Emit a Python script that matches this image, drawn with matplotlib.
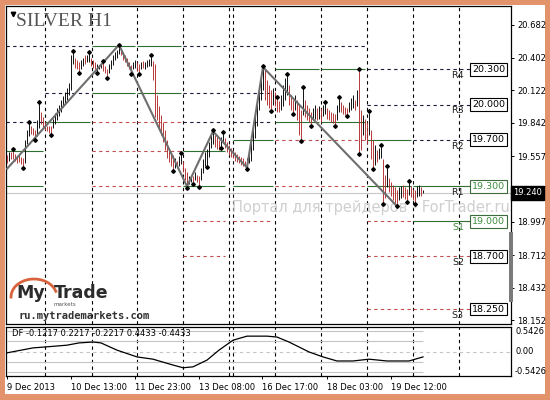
import matplotlib.pyplot as plt
from matplotlib.patches import Rectangle, Arc

# ---- data (hourly bars) ----
highs = [19.57, 19.59, 19.59, 19.61, 19.58, 19.56, 19.57, 19.55, 19.54, 19.70,
         19.78, 19.84, 19.82, 19.80, 19.78, 19.87, 20.01, 19.94, 19.89, 19.85,
         19.82, 19.82, 19.82, 19.88, 19.93, 19.97, 20.00, 20.04, 20.07, 20.11,
         20.14, 20.18, 20.42, 20.45, 20.40, 20.38, 20.36, 20.38, 20.40, 20.42,
         20.42, 20.44, 20.40, 20.38, 20.36, 20.35, 20.34, 20.35, 20.36, 20.33,
         20.30, 20.35, 20.38, 20.42, 20.45, 20.47, 20.50, 20.48, 20.45, 20.42,
         20.40, 20.36, 20.34, 20.36, 20.38, 20.36, 20.35, 20.36, 20.37, 20.36,
         20.38, 20.39, 20.41, 20.37, 20.35, 20.08, 19.99, 19.91, 19.85, 19.78,
         19.70, 19.63, 19.59, 19.57, 19.54, 19.52, 19.56, 19.57, 19.52, 19.46,
         19.42, 19.39, 19.40, 19.39, 19.42, 19.40, 19.39, 19.46, 19.53, 19.59,
         19.62, 19.68, 19.74, 19.77, 19.74, 19.72, 19.70, 19.72, 19.75, 19.71,
         19.68, 19.65, 19.63, 19.61, 19.59, 19.58, 19.56, 19.55, 19.54, 19.52,
         19.54, 19.61, 19.70, 19.80, 19.94, 20.06, 20.17, 20.28, 20.32, 20.30,
         20.21, 20.17, 20.12, 20.14, 20.11, 20.05, 20.03, 20.08, 20.17, 20.23,
         20.25, 20.17, 20.08, 20.04, 20.08, 20.04, 20.00, 19.95, 20.14, 20.04,
         20.00, 19.97, 19.94, 19.97, 20.00, 19.97, 19.99, 19.97, 20.00, 20.01,
         19.97, 19.95, 19.94, 19.93, 19.92, 20.00, 20.05, 20.02, 20.00, 19.98,
         19.97, 20.02, 20.06, 20.08, 20.04, 20.12, 20.29, 19.95, 19.91, 19.88,
         19.85, 19.93, 19.78, 19.70, 19.65, 19.61, 19.63, 19.64, 19.53, 19.40,
         19.46, 19.37, 19.34, 19.31, 19.29, 19.27, 19.29, 19.30, 19.31, 19.29,
         19.28, 19.33, 19.30, 19.28, 19.27, 19.30, 19.31, 19.29, 19.27]
lows = [19.50, 19.52, 19.53, 19.53, 19.52, 19.50, 19.51, 19.49, 19.47, 19.50,
        19.66, 19.73, 19.75, 19.74, 19.71, 19.73, 19.80, 19.83, 19.81, 19.78,
        19.77, 19.76, 19.75, 19.80, 19.83, 19.87, 19.90, 19.94, 19.98, 20.01,
        20.04, 20.08, 20.12, 20.35, 20.31, 20.30, 20.28, 20.30, 20.33, 20.35,
        20.36, 20.36, 20.33, 20.31, 20.30, 20.28, 20.30, 20.31, 20.29, 20.27,
        20.24, 20.27, 20.30, 20.34, 20.38, 20.40, 20.43, 20.42, 20.38, 20.36,
        20.33, 20.30, 20.27, 20.30, 20.31, 20.29, 20.27, 20.30, 20.31, 20.30,
        20.32, 20.33, 20.33, 20.21, 19.89, 19.87, 19.80, 19.74, 19.68, 19.61,
        19.54, 19.51, 19.47, 19.44, 19.46, 19.46, 19.47, 19.49, 19.42, 19.35,
        19.30, 19.32, 19.34, 19.33, 19.35, 19.34, 19.31, 19.35, 19.41, 19.47,
        19.48, 19.55, 19.63, 19.66, 19.64, 19.62, 19.61, 19.64, 19.67, 19.63,
        19.59, 19.57, 19.55, 19.54, 19.52, 19.51, 19.50, 19.48, 19.47, 19.47,
        19.46, 19.50, 19.52, 19.61, 19.71, 19.82, 19.95, 20.04, 20.12, 20.04,
        20.00, 19.97, 19.96, 20.00, 19.99, 19.94, 19.94, 19.95, 19.99, 20.04,
        20.08, 20.00, 19.95, 19.93, 19.95, 19.87, 19.74, 19.70, 19.91, 19.89,
        19.87, 19.85, 19.83, 19.87, 19.88, 19.87, 19.88, 19.85, 19.90, 19.92,
        19.88, 19.87, 19.85, 19.84, 19.83, 19.87, 19.94, 19.94, 19.92, 19.91,
        19.91, 19.94, 19.95, 19.97, 19.95, 19.99, 19.59, 19.61, 19.74, 19.70,
        19.66, 19.74, 19.53, 19.46, 19.48, 19.51, 19.53, 19.54, 19.16, 19.20,
        19.29, 19.25, 19.22, 19.18, 19.16, 19.14, 19.18, 19.20, 19.21, 19.19,
        19.18, 19.23, 19.21, 19.18, 19.16, 19.21, 19.22, 19.22, 19.24]
dirs = ("dudddddddu" "uuddduuddd" "ddduuuuuuu" "uuuuddduud" "uuddduuudd"
        "duuuuuuddd" "ddduuddudu" "uuuddddddd" "dddduduudd" "duududduuu"
        "uuuuddduud" "dddddddddd" "uuuuuuuuud" "ddduddduuu" "udddudddud"
        "ddduududuu" "ddddduuddd" "duuududdud" "dudduduudd" "uddddduudd"
        "duddduudu")

up_fractals = [3, 11, 16, 33, 41, 48, 56, 72, 87, 103, 108, 128, 135, 140,
               148, 159, 166, 176, 181, 187, 190, 201]
down_fractals = [8, 14, 22, 36, 45, 50, 62, 66, 83, 90, 93, 96, 100, 107, 120,
                 132, 143, 147, 152, 164, 170, 176, 183, 188, 195, 200, 204]

zigzag_bar = [0, 56, 90, 103, 120, 128, 195]
zigzag_price = [19.45, 20.51, 19.30, 19.77, 19.46, 20.32, 19.13]

day_lines = [19, 42.5, 65, 88, 111, 113, 134, 157, 180, 203, 226]

# daily levels: start bar, end bar, price, kind (r = resistance, g = R1/S1, s = support)
lev_x0 = [-0.5, -0.5, -0.5, -0.5,
          19, 19, 19,
          42.5, 42.5, 42.5, 42.5, 42.5,
          65, 65, 65, 65, 65,
          88, 88, 88, 88, 88, 88, 88,
          113, 113, 113, 113, 113, 113,
          134, 134, 134, 134, 134,
          157, 157, 157, 157, 157,
          180, 180, 180, 180, 180, 180, 180]
lev_x1 = [18, 18, 18, 18,
          41.5, 41.5, 41.5,
          64, 64, 64, 64, 64,
          87, 87, 87, 87, 87,
          109, 109, 109, 109, 109, 109, 109,
          133, 133, 133, 133, 133, 133,
          156, 156, 156, 156, 156,
          179, 179, 179, 179, 179,
          202, 202, 202, 202, 202, 202, 202]
lev_price = [20.5, 19.85, 19.6, 19.3,
             20.5, 20.1, 19.85,
             20.5, 20.1, 19.85, 19.6, 19.3,
             20.5, 20.1, 19.85, 19.6, 19.3,
             20.5, 20.1, 19.85, 19.6, 19.3, 19.0, 18.7,
             20.5, 20.1, 19.85, 19.7, 19.3, 19.0,
             20.5, 20.3, 19.85, 19.7, 19.3,
             20.5, 20.3, 19.85, 19.7, 19.3,
             20.3, 20.0, 19.7, 19.3, 19.0, 18.7, 18.25]
lev_kind = ["r", "r", "g", "g",
            "r", "r", "g",
            "g", "g", "s", "s", "s",
            "g", "g", "s", "s", "s",
            "r", "r", "r", "g", "g", "s", "s",
            "r", "r", "r", "g", "g", "s",
            "r", "g", "g", "s", "s",
            "r", "g", "g", "s", "s",
            "r", "r", "g", "g", "s", "s", "s"]

cur_names = ["R4", "R3", "R2", "R1", "S1", "S2", "S3"]
cur_levels = [20.3, 20.0, 19.7, 19.3, 19.0, 18.7, 18.25]
cur_kind = ["r", "r", "r", "g", "g", "s", "s"]
last_price = 19.24

price_ticks = [20.682, 20.402, 20.122, 19.842, 19.557, 19.277, 18.997, 18.712, 18.432, 18.152]
time_bar = [0, 32, 64, 96, 127.5, 160, 192]
time_labels = ["9 Dec 2013", "10 Dec 13:00", "11 Dec 23:00", "13 Dec 08:00",
               "16 Dec 17:00", "18 Dec 03:00", "19 Dec 12:00"]

df_bar = [0, 13, 19, 30, 36, 43, 47, 55, 65, 73, 83, 88, 93, 100, 106, 113,
          120, 130, 135, 141, 151, 158, 165, 173, 181, 190, 201, 208]
df_val = [-0.03, 0.08, 0.10, 0.14, 0.19, 0.21, 0.19, 0.03, -0.12, -0.17, -0.30,
          -0.36, -0.34, -0.19, 0.03, 0.25, 0.34, 0.34, 0.32, 0.21, -0.01, -0.12,
          -0.21, -0.21, -0.17, -0.21, -0.21, -0.12]
df_levels = [0.4433, 0.2217, -0.2217, -0.4433]

# ---- figure ----
W, H = 550, 400


def fx(px):
    return px / W


def fy(py):
    return 1 - py / H


fig = plt.figure(figsize=(5.5, 4), dpi=100, facecolor="#e3936c")
fig.patches.append(Rectangle((fx(5), fy(394)), fx(540), 389 / H, transform=fig.transFigure,
                             fc="white", ec="none", zorder=-5))

ax = fig.add_axes([fx(6), fy(324), fx(505), 318 / H])
ax2 = fig.add_axes([fx(6), fy(376), fx(505), 49 / H])

xs = list(range(len(highs)))
cols = ["black" if d == "u" else "#b02c2c" for d in dirs]

ax.set_xlim(-0.5, 252)
ax.set_ylim(18.122, 20.843)
ax2.set_xlim(-0.5, 252)
ax2.set_ylim(-0.5426, 0.5426)

for a in (ax, ax2):
    for d in day_lines:
        a.axvline(d, color="black", lw=0.8, ls=(0, (3, 3)), zorder=1)
    for s in a.spines.values():
        s.set_linewidth(0.9)

# daily levels
styles = {"r": dict(color="#1c1c3a", ls=(0, (3, 3))),
          "g": dict(color="#2f6f2f", ls="-"),
          "s": dict(color="#c05050", ls=(0, (3, 3)))}
for x0, x1, p, k in zip(lev_x0, lev_x1, lev_price, lev_kind):
    ax.hlines(p, x0, x1, lw=0.8, zorder=2, **styles[k])

# current bid line
ax.axhline(last_price, color="#c8c8c8", lw=0.8, zorder=1.5)

# watermark
ax.text(112.5, 19.115, "Портал для трейдеров - ForTrader.ru", fontsize=10.5,
        color="#cfcfcf", ha="left", va="center", zorder=1.2, clip_on=False)

# bars
ax.vlines(xs, lows, highs, colors=cols, lw=0.65, zorder=3)

# zigzag
ax.plot(zigzag_bar, zigzag_price, color="#6e6e6e", lw=1.5, zorder=4)

# fractal markers
ax.plot(up_fractals, [highs[i] + 0.012 for i in up_fractals], "D", color="black", ms=1.9, zorder=5)
ax.plot(down_fractals, [lows[i] - 0.012 for i in down_fractals], "D", color="black", ms=1.9, zorder=5)

# current day levels with boxes
for name, p, k in zip(cur_names, cur_levels, cur_kind):
    ax.hlines(p, 203, 232, lw=0.8, zorder=2, **styles[k])
    tc = "#3c8c3c" if k == "g" else "black"
    ax.text(232.5, p, "%.3f" % p, fontsize=6.8, color=tc, ha="left", va="center", zorder=6,
            bbox=dict(boxstyle="square,pad=0.18", fc="white", ec="#3c6c3c" if k == "g" else "black", lw=0.8))
    ax.text(228.5, p - 0.055, name, fontsize=6.8, ha="right", va="center", zorder=6,
            color="#3c8c3c" if name == "S1" else "#202020")

ax.set_xticks([])
ax.yaxis.tick_right()
ax.set_yticks(price_ticks, ["%.3f" % t for t in price_ticks])
ax.tick_params(axis="y", length=2.5, width=0.7, pad=2, labelsize=6)

# title
ax.plot([3], [20.772], "v", color="black", ms=3.2, zorder=6)
fig.text(fx(16), fy(21), "SILVER H1", fontsize=14, family="Liberation Serif",
         color="#555555", ha="left", va="center")

# last price label and side bar
fig.text(fx(513), fy(193), "%.3f" % last_price, fontsize=6, color="white", ha="left", va="center",
         bbox=dict(boxstyle="square,pad=0.25", fc="black", ec="black"), zorder=10)
fig.patches.append(Rectangle((fx(509), fy(302)), fx(4), 70 / H, transform=fig.transFigure,
                             fc="#7a7a7a", ec="none", zorder=9))

# logo
fig.patches.append(Arc((fx(34), fy(297)), fx(46), 36 / H, theta1=15, theta2=185,
                       transform=fig.transFigure, color="#d8633c", lw=2, zorder=8))
fig.text(fx(16), fy(293), "My", fontsize=12.5, weight="bold", color="#2b2b2b", ha="left", va="center", zorder=9)
fig.text(fx(54), fy(293), "Trade", fontsize=12.5, weight="bold", color="#2b2b2b", ha="left", va="center", zorder=9)
fig.text(fx(54), fy(304), "markets", fontsize=4, color="#555555", ha="left", va="center", zorder=9)
fig.text(fx(19), fy(316), "ru.mytrademarkets.com", fontsize=7.5, family="DejaVu Sans Mono",
         weight="bold", color="#333333", ha="left", va="center", zorder=9)

# ---- DF panel ----
for lv in df_levels:
    ax2.hlines(lv, 0, 208, color="#c4c4c4", lw=0.8, zorder=2)
ax2.axhline(0, color="#c4c4c4", lw=0.8, ls=(0, (3, 3)), zorder=2)
ax2.plot(df_bar, df_val, color="black", lw=0.9, zorder=3)
ax2.text(2.5, 0.50, "DF -0.1217 0.2217 -0.2217 0.4433 -0.4433", fontsize=6, ha="left", va="top")

ax2.set_yticks([])
ax2.set_xticks(time_bar, time_labels)
ax2.tick_params(axis="x", length=2.5, width=0.7, pad=2.5, labelsize=6)
for lab in ax2.get_xticklabels():
    lab.set_ha("left")
ax2.text(1.008, 0.5426, "0.5426", transform=ax2.get_yaxis_transform(), fontsize=6, va="top", ha="left")
ax2.text(1.008, 0.0, "0.00", transform=ax2.get_yaxis_transform(), fontsize=6, va="center", ha="left")
ax2.text(1.008, -0.5426, "-0.5426", transform=ax2.get_yaxis_transform(), fontsize=6, va="bottom", ha="left")

fig.savefig("out.png", dpi=100, facecolor=fig.get_facecolor())
